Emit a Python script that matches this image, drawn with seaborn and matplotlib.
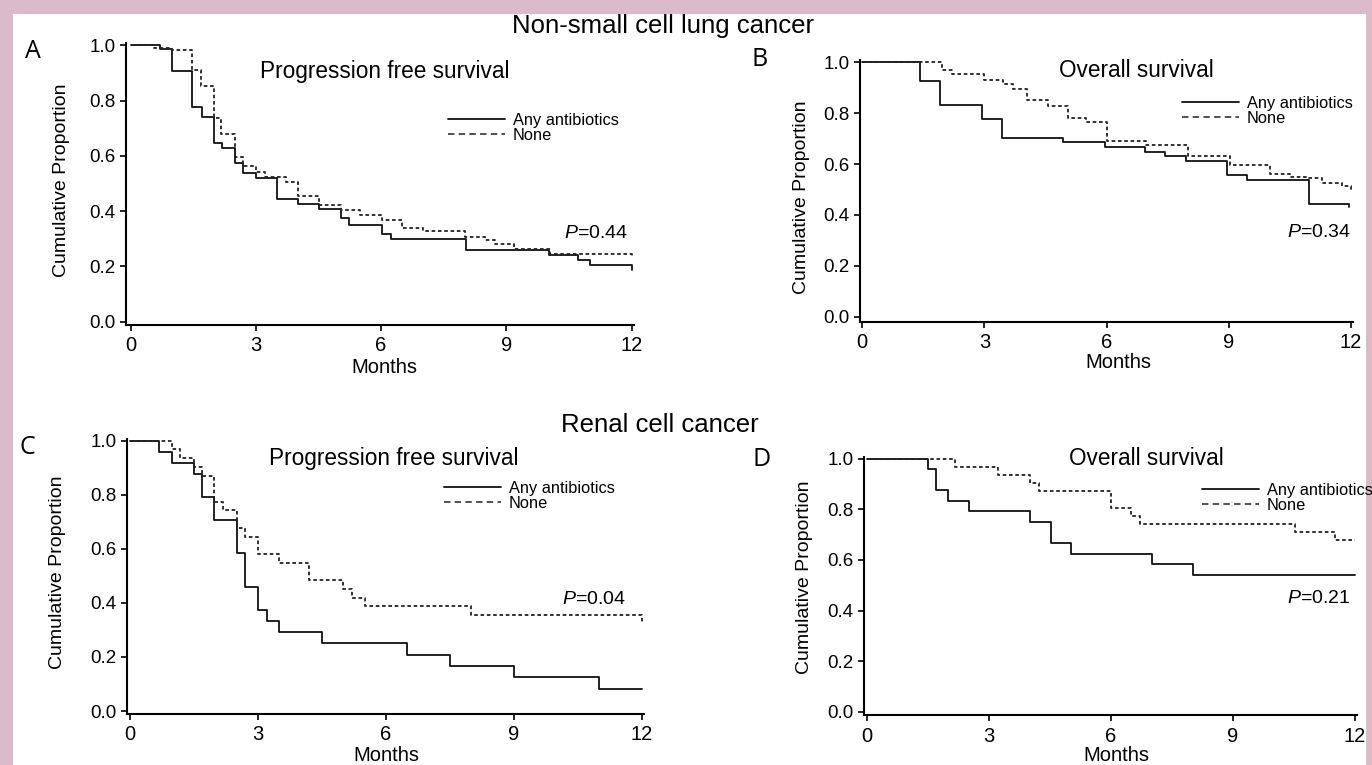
import matplotlib
matplotlib.use("Agg")
import matplotlib.pyplot as plt
import pandas as pd
import seaborn as sns
from matplotlib.lines import Line2D
from matplotlib.patches import Rectangle

# ---------------- data ----------------
group_labels = ["Any antibiotics", "None"]
months_ticks = [0, 3, 6, 9, 12]
prop_ticks = [0.0, 0.2, 0.4, 0.6, 0.8, 1.0]
section_titles = ["Non-small cell lung cancer", "Renal cell cancer"]
panel_letters = ["A", "B", "C", "D"]
panel_titles = ["Progression free survival", "Overall survival",
                "Progression free survival", "Overall survival"]
p_values = ["0.44", "0.34", "0.04", "0.21"]

# A: NSCLC progression free survival
a_abx_t = [0, 0.7, 1.0, 1.48, 1.71, 2.0, 2.19, 2.5, 2.7, 3.0, 3.51, 4.01, 4.51,
           5.03, 5.24, 6.03, 6.23, 8.03, 10.02, 10.73, 11.0, 12.0]
a_abx_s = [1.0, 0.985, 0.908, 0.778, 0.742, 0.648, 0.627, 0.573, 0.536, 0.518,
           0.443, 0.425, 0.407, 0.373, 0.351, 0.315, 0.297, 0.258, 0.240, 0.222,
           0.203, 0.185]
a_none_t = [0, 0.55, 1.0, 1.48, 1.69, 2.0, 2.17, 2.5, 2.7, 3.0, 3.23, 3.71, 4.0,
            4.51, 5.03, 5.5, 6.03, 6.51, 7.0, 8.0, 8.5, 8.74, 9.19, 10.04, 12.0]
a_none_s = [1.0, 0.992, 0.982, 0.912, 0.851, 0.736, 0.678, 0.597, 0.563, 0.542,
            0.524, 0.506, 0.455, 0.421, 0.403, 0.385, 0.367, 0.339, 0.328, 0.306,
            0.294, 0.282, 0.262, 0.246, 0.238]

# B: NSCLC overall survival
b_abx_t = [0, 1.42, 1.91, 2.94, 3.43, 4.92, 5.95, 6.95, 7.44, 7.96, 8.96, 9.45,
           10.97, 11.95]
b_abx_s = [1.0, 0.926, 0.833, 0.778, 0.704, 0.685, 0.667, 0.648, 0.630, 0.611,
           0.556, 0.537, 0.444, 0.432]
b_none_t = [0, 1.95, 2.2, 2.99, 3.45, 3.7, 4.04, 4.57, 5.05, 5.5, 6.0, 6.97, 8.0,
            9.02, 10.0, 10.5, 10.95, 11.28, 11.77, 12.0]
b_none_s = [1.0, 0.968, 0.955, 0.929, 0.913, 0.894, 0.851, 0.829, 0.780, 0.764,
            0.690, 0.676, 0.631, 0.596, 0.561, 0.551, 0.544, 0.527, 0.512, 0.49]

# C: renal cell cancer progression free survival
c_abx_t = [0, 0.69, 0.98, 1.49, 1.69, 1.98, 2.5, 2.7, 3.0, 3.21, 3.49, 4.5, 6.5,
           7.5, 9.0, 11.0, 12.0]
c_abx_s = [1.0, 0.958, 0.917, 0.875, 0.792, 0.708, 0.583, 0.458, 0.375, 0.333,
           0.292, 0.25, 0.208, 0.167, 0.125, 0.083, 0.083]
c_none_t = [0, 0.98, 1.18, 1.49, 1.69, 1.98, 2.18, 2.5, 2.69, 3.0, 3.49, 4.2, 5.0,
            5.2, 5.5, 8.0, 12.0]
c_none_s = [1.0, 0.968, 0.935, 0.903, 0.871, 0.774, 0.742, 0.677, 0.645, 0.581,
            0.548, 0.484, 0.452, 0.419, 0.387, 0.355, 0.323]

# D: renal cell cancer overall survival
d_abx_t = [0, 1.49, 1.7, 2.0, 2.52, 4.02, 4.52, 5.02, 7.0, 8.02, 12.0]
d_abx_s = [1.0, 0.958, 0.875, 0.833, 0.792, 0.75, 0.667, 0.625, 0.583, 0.542, 0.542]
d_none_t = [0, 2.17, 3.21, 4.02, 4.22, 6.0, 6.49, 6.72, 10.52, 11.5, 12.0]
d_none_s = [1.0, 0.968, 0.935, 0.903, 0.871, 0.806, 0.774, 0.742, 0.71, 0.677, 0.677]

series = [
    (a_abx_t, a_abx_s, a_none_t, a_none_s),
    (b_abx_t, b_abx_s, b_none_t, b_none_s),
    (c_abx_t, c_abx_s, c_none_t, c_none_s),
    (d_abx_t, d_abx_s, d_none_t, d_none_s),
]

# ---------------- layout (pixels in the 1372x765 picture) ----------------
W, H = 1372, 765
PINK = "#dbbbc9"
# x of month 0, x of month 12, y of 0.0, y of 1.0, left spine x, bottom spine y
geom = [
    dict(x0=130.7, x12=631.5, y0=321.5, y1=45.3, sx=125.7, sy=324.5),
    dict(x0=862.3, x12=1351.0, y0=316.7, y1=62.3, sx=860.0, sy=321.5),
    dict(x0=130.0, x12=642.0, y0=711.0, y1=440.7, sx=126.7, sy=713.5),
    dict(x0=867.0, x12=1355.0, y0=711.7, y1=458.7, sx=864.0, sy=715.0),
]
texts = [
    dict(letter=(33, 52), title=(385, 78), leg=(448, 121.7), p=(628, 238),
         ylab=(61, 180), xlab=(384, 373)),
    dict(letter=(760, 60), title=(1136, 77), leg=(1182, 105), p=(1351, 237),
         ylab=(802, 197), xlab=(1118, 368)),
    dict(letter=(27, 447), title=(394, 465), leg=(444, 490), p=(626, 604),
         ylab=(57, 572), xlab=(386, 761)),
    dict(letter=(762, 459), title=(1146, 465), leg=(1202, 492), p=(1350, 603),
         ylab=(804, 577), xlab=(1116, 761)),
]
section_pos = [(663, 33), (660, 432)]


def fx(x):
    return x / W


def fy(y):
    return 1 - y / H


sns.set_theme(style="ticks")
plt.rcParams["font.family"] = ["Liberation Sans", "DejaVu Sans"]
plt.rcParams["mathtext.fontset"] = "custom"
plt.rcParams["mathtext.it"] = "Liberation Sans:italic"
plt.rcParams["mathtext.rm"] = "Liberation Sans"
plt.rcParams["text.color"] = "black"
plt.rcParams["axes.labelcolor"] = "black"
plt.rcParams["xtick.color"] = "black"
plt.rcParams["ytick.color"] = "black"

fig = plt.figure(figsize=(W / 100, H / 100), dpi=100)
fig.patch.set_facecolor(PINK)
fig.add_artist(Rectangle((fx(13), 0), (1366 - 13) / W, (H - 14) / H,
                         transform=fig.transFigure, facecolor="white",
                         edgecolor="none", zorder=-10))

LW = 1.3
DOT = (2.0, 1.5)
tick_family = ["Liberation Sans Narrow", "Liberation Sans", "DejaVu Sans"]

for i, (g, tx, (t1, s1, t2, s2)) in enumerate(zip(geom, texts, series)):
    pxpm = (g["x12"] - g["x0"]) / 12.0
    pxpu = g["y0"] - g["y1"]
    right_px = g["x12"] + 2
    top_px = g["y1"] - 2
    ax = fig.add_axes([fx(g["sx"]), fy(g["sy"]), (right_px - g["sx"]) / W,
                       (g["sy"] - top_px) / H])
    ax.set_facecolor("none")

    df = pd.concat([
        pd.DataFrame({"Months": t1, "Proportion": s1, "Group": group_labels[0]}),
        pd.DataFrame({"Months": t2, "Proportion": s2, "Group": group_labels[1]}),
    ], ignore_index=True)
    sns.lineplot(data=df, x="Months", y="Proportion", hue="Group", style="Group",
                 palette={group_labels[0]: "#111111", group_labels[1]: "#222222"},
                 dashes={group_labels[0]: "", group_labels[1]: DOT},
                 estimator=None, sort=False, drawstyle="steps-post",
                 linewidth=LW, legend=False, ax=ax)

    ax.set_xlim(-(g["x0"] - g["sx"]) / pxpm, 12 + 2 / pxpm)
    ax.set_ylim(-(g["sy"] - g["y0"]) / pxpu, 1 + 2 / pxpu)
    ax.set_xticks(months_ticks)
    ax.set_xticklabels([str(m) for m in months_ticks], fontsize=14.5,
                       family=tick_family)
    ax.set_yticks(prop_ticks)
    ax.set_yticklabels([f"{v:.1f}" for v in prop_ticks], fontsize=13.5,
                       family=tick_family)
    for side in ("top", "right"):
        ax.spines[side].set_visible(False)
    for side in ("left", "bottom"):
        ax.spines[side].set_linewidth(1.5)
        ax.spines[side].set_color("black")
    ax.tick_params(axis="both", direction="out", length=4.5, width=1.2,
                   colors="black", left=True, bottom=True)
    ax.tick_params(axis="x", pad=4)
    ax.tick_params(axis="y", pad=3)

    axw = right_px - g["sx"]
    axh = g["sy"] - top_px
    ax.set_ylabel("Cumulative Proportion", fontsize=14, ha="center", va="center")
    ax.yaxis.set_label_coords((tx["ylab"][0] - g["sx"]) / axw,
                              (g["sy"] - tx["ylab"][1]) / axh)
    ax.set_xlabel("Months", fontsize=14.5, ha="center", va="baseline")
    ax.xaxis.set_label_coords((tx["xlab"][0] - g["sx"]) / axw,
                              (g["sy"] - tx["xlab"][1]) / axh)

    fig.text(fx(tx["letter"][0]), fy(tx["letter"][1]), panel_letters[i],
             fontsize=18, family=["Open Sans", "DejaVu Sans"],
             ha="center", va="center")
    fig.text(fx(tx["title"][0]), fy(tx["title"][1]), panel_titles[i],
             fontsize=16.3, ha="center", va="baseline")
    fig.text(fx(tx["p"][0]), fy(tx["p"][1]), r"$\mathit{P}$=" + p_values[i],
             fontsize=14, ha="right", va="baseline")

    handles = [Line2D([], [], color="#111111", lw=LW),
               Line2D([], [], color="#222222", lw=1.1, dashes=(4.2, 2.8))]
    leg_fs = 11.8
    top_leg = tx["leg"][1] - 0.56 * leg_fs * 100 / 72
    ax.legend(handles, group_labels, loc="upper left",
              bbox_to_anchor=(fx(tx["leg"][0]), fy(top_leg)),
              bbox_transform=fig.transFigure, frameon=False, fontsize=leg_fs,
              handlelength=3.5, handletextpad=0.45, labelspacing=0.0,
              borderpad=0, borderaxespad=0)

for title, (x, y) in zip(section_titles, section_pos):
    fig.text(fx(x), fy(y), title, fontsize=18.5, ha="center", va="baseline")

fig.savefig("out.png", dpi=100, facecolor=fig.get_facecolor())
